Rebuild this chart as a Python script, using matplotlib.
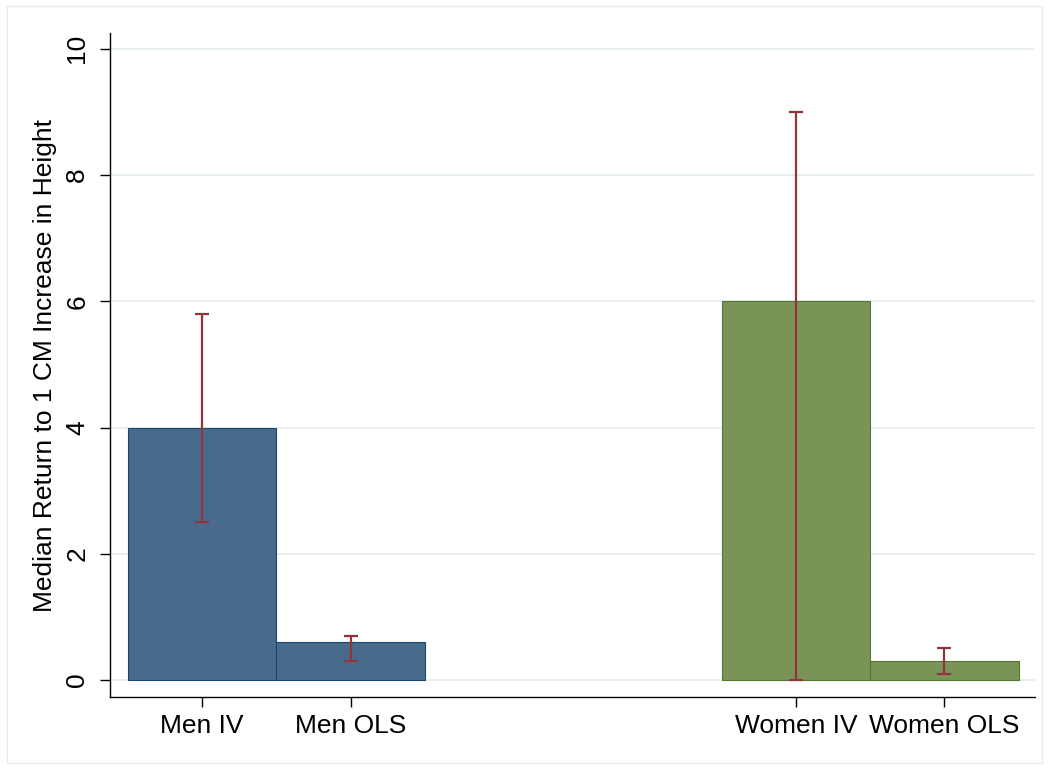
import matplotlib

matplotlib.use("Agg")
import matplotlib.pyplot as plt
from matplotlib.patches import Rectangle

labels = ["Men IV", "Men OLS", "Women IV", "Women OLS"]
positions = [0, 1, 4, 5]
values = [4.0, 0.6, 6.0, 0.3]
ci_low = [2.5, 0.3, 0.0, 0.1]
ci_high = [5.8, 0.7, 9.0, 0.5]
groups = ["men", "men", "women", "women"]

fill = {"men": "#486b8b", "women": "#7a9457"}
edge = {"men": "#1a476f", "women": "#55752f"}

plt.rcParams["font.family"] = ["Liberation Sans", "DejaVu Sans"]

fig = plt.figure(figsize=(10.49, 7.69), dpi=100)
ax = fig.add_axes([0.1049, 0.0936, 0.8817, 0.8634])

for y in range(0, 11, 2):
    ax.axhline(y, color="#e6eef0", linewidth=1.3, zorder=0)

ax.bar(positions, values, width=1.0,
       color=[fill[g] for g in groups],
       edgecolor=[edge[g] for g in groups],
       linewidth=0.8, zorder=2)

mid = [(lo + hi) / 2 for lo, hi in zip(ci_low, ci_high)]
half = [(hi - lo) / 2 for lo, hi in zip(ci_low, ci_high)]
ax.errorbar(positions, mid, yerr=half, fmt="none", ecolor="#90353b",
            elinewidth=1.6, capsize=5, capthick=1.6, zorder=3)

ax.set_xlim(-0.62, 5.61)
ax.set_ylim(-0.27, 10.25)
ax.set_xticks(positions)
ax.set_xticklabels(labels, fontsize=19)
ax.set_yticks(range(0, 11, 2))
ax.set_yticklabels([str(v) for v in range(0, 11, 2)], fontsize=19,
                   rotation=90, va="center")
ax.tick_params(axis="x", direction="out", length=7, width=1.0,
               color="black", pad=5)
ax.tick_params(axis="y", direction="out", length=7, width=1.0,
               color="black", pad=8)
ax.set_ylabel("Median Return to 1 CM Increase in Height", fontsize=19,
              labelpad=6)

for side in ("top", "right"):
    ax.spines[side].set_visible(False)
for side in ("left", "bottom"):
    ax.spines[side].set_linewidth(1.0)

fig.patches.append(Rectangle((0.0067, 0.0078), 0.9866, 0.9844,
                             transform=fig.transFigure, fill=False,
                             edgecolor="#e6ecee", linewidth=1.0))

fig.savefig("out.png", dpi=100)
